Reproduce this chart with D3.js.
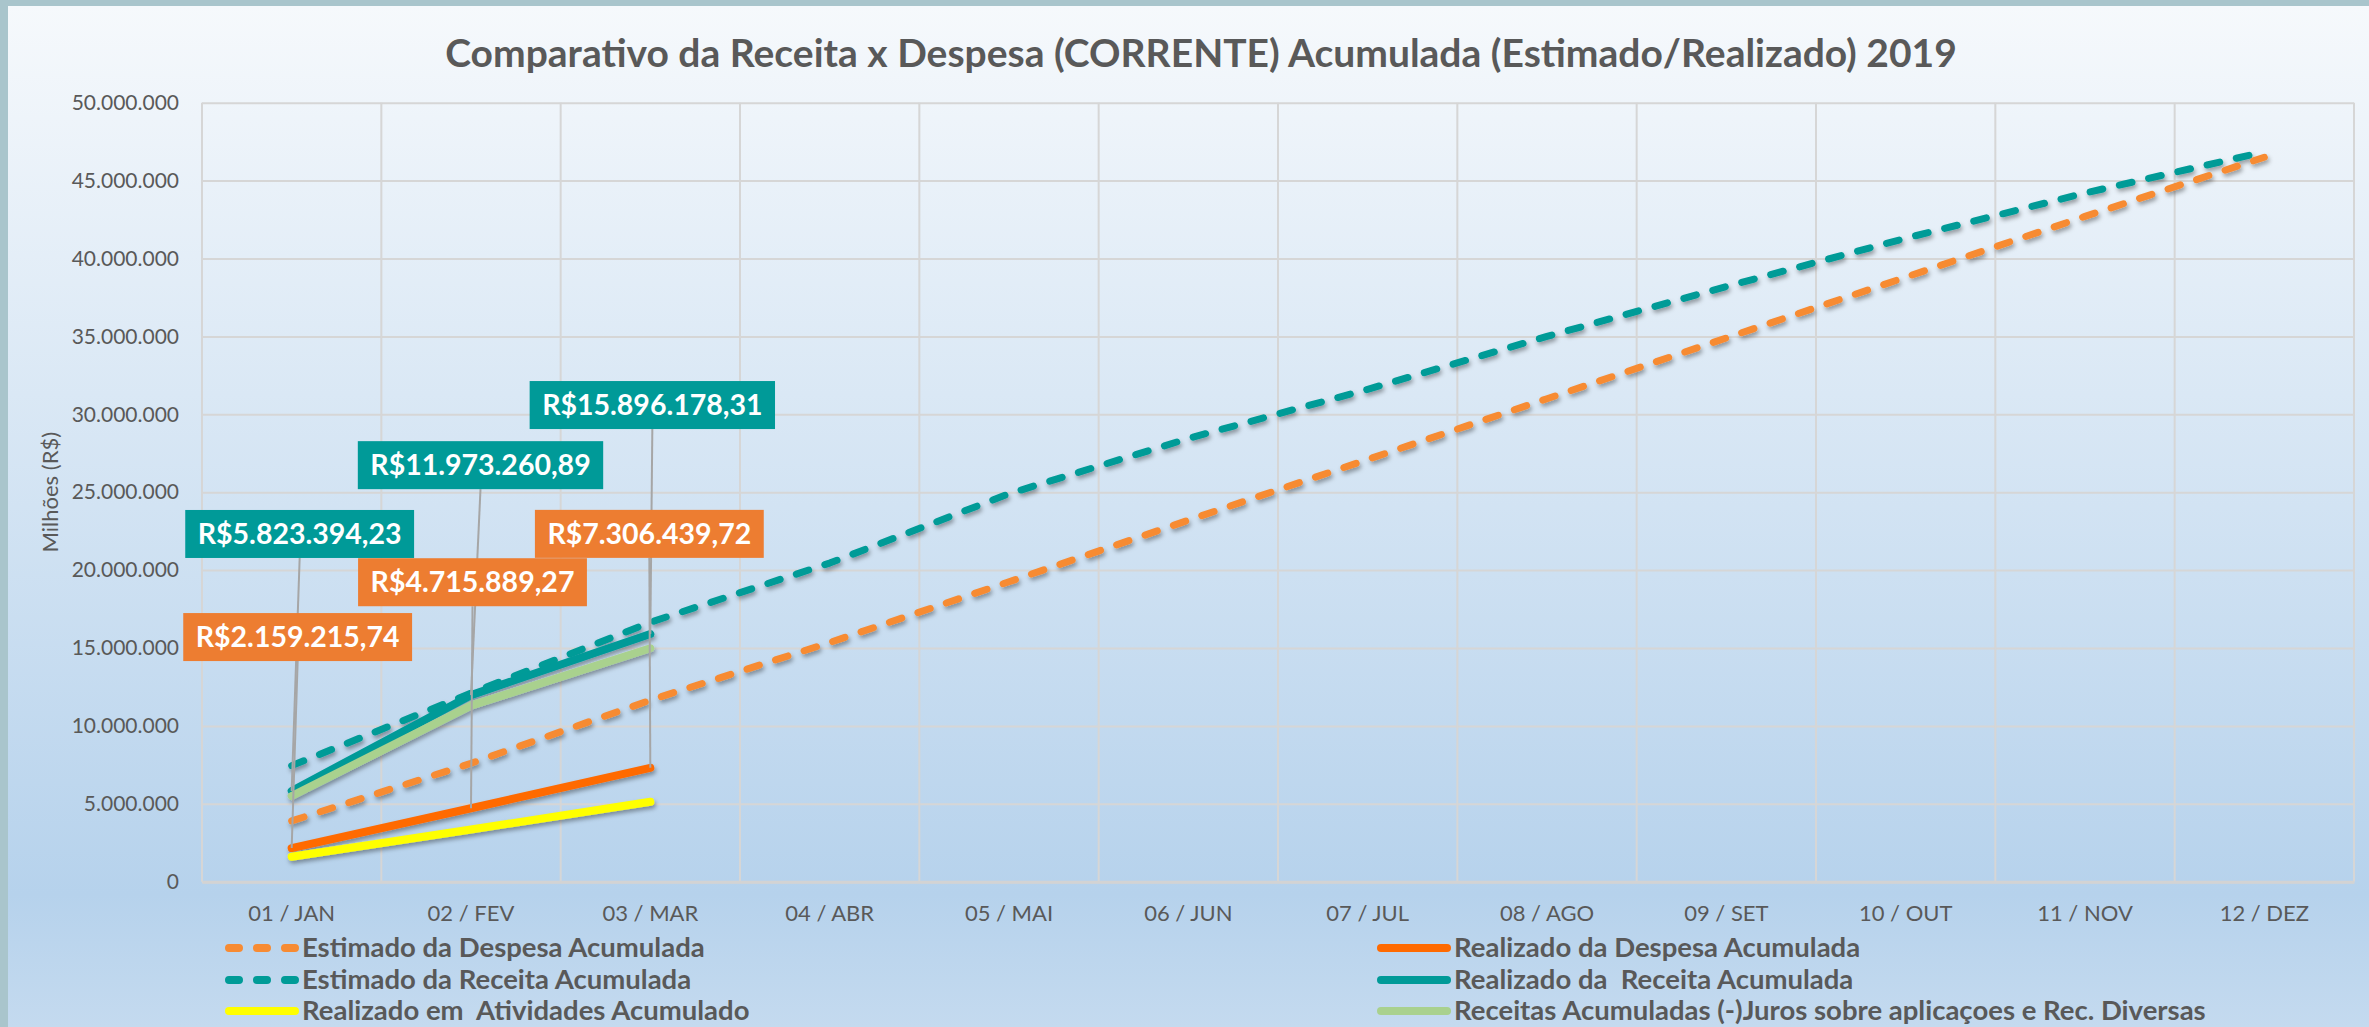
<!DOCTYPE html>
<html>
<head>
<meta charset="utf-8">
<script src="https://cdn.jsdelivr.net/npm/d3@7"></script>
<style>
  body { margin: 0; background: #a9c5cc; }
  svg { display: block; font-family: Lato, "Open Sans", sans-serif; }
</style>
</head>
<body>
<div id="chart"></div>
<script>
// Dados
const meses = ["01 / JAN", "02 / FEV", "03 / MAR", "04 / ABR", "05 / MAI", "06 / JUN",
               "07 / JUL", "08 / AGO", "09 / SET", "10 / OUT", "11 / NOV", "12 / DEZ"];
const estimadoDespesa = [3900000, 7600000, 11650000, 15350000, 19250000, 23200000,
                         27100000, 31000000, 34900000, 38800000, 42700000, 46500000];
const estimadoReceita = [7450000, 12100000, 16650000, 20450000, 24900000, 28450000,
                         31600000, 35000000, 38200000, 41300000, 44200000, 46850000];
const realizadoDespesa = [2159215.74, 4715889.27, 7306439.72];
const realizadoReceita = [5823394.23, 11973260.89, 15896178.31];
const realizadoAtividades = [1600000, 3350000, 5130000];
const receitasSemJuros = [5500000, 11300000, 14980000];
const yTicks = [0, 5e6, 10e6, 15e6, 20e6, 25e6, 30e6, 35e6, 40e6, 45e6, 50e6];

// Dimensões
const width = 2369, height = 1027;
const plot = { left: 202, right: 2354, top: 102.7, bottom: 881.7 };

const br = d3.formatLocale({ decimal: ",", thousands: ".", grouping: [3], currency: ["R$", ""] });
const fmtNum = br.format(",.0f");
const fmtMoeda = br.format("$,.2f");

const svg = d3.select("#chart").append("svg")
  .attr("width", width)
  .attr("height", height);

const defs = svg.append("defs");
const grad = defs.append("linearGradient")
  .attr("id", "fundo").attr("x1", 0).attr("y1", 0).attr("x2", 0).attr("y2", 1);
grad.append("stop").attr("offset", "0%").attr("stop-color", "#f6f9fc");
grad.append("stop").attr("offset", "87%").attr("stop-color", "#b6d2ec");
grad.append("stop").attr("offset", "100%").attr("stop-color", "#c4daef");

const shadow = defs.append("filter").attr("id", "sombra")
  .attr("x", "-5%").attr("y", "-20%").attr("width", "110%").attr("height", "140%");
shadow.append("feDropShadow")
  .attr("dx", 1.5).attr("dy", 3).attr("stdDeviation", 2)
  .attr("flood-color", "#000").attr("flood-opacity", 0.35);

// Fundo
svg.append("rect")
  .attr("x", 8).attr("y", 6)
  .attr("width", width - 8).attr("height", height - 6)
  .attr("fill", "url(#fundo)");

// Escalas
const x = d3.scaleBand()
  .domain(meses)
  .range([plot.left, plot.right])
  .padding(0);
const cx = d => x(d) + x.bandwidth() / 2;

const y = d3.scaleLinear()
  .domain([0, 50e6])
  .range([plot.bottom, plot.top]);

// Eixo Y + grade horizontal
const yAxis = svg.append("g")
  .attr("transform", `translate(${plot.left},0)`)
  .call(d3.axisLeft(y)
    .tickValues(yTicks)
    .tickFormat(fmtNum)
    .tickSize(-(plot.right - plot.left))
    .tickPadding(23));
yAxis.select(".domain").remove();
yAxis.selectAll(".tick line").attr("stroke", "#d6d6d6").attr("stroke-width", 2);
yAxis.selectAll(".tick text")
  .attr("fill", "#595959")
  .attr("font-size", "21px")
  .attr("font-family", "Lato, sans-serif");

// Grade vertical
const bordas = meses.map(m => x(m)).concat([plot.right]);
svg.append("g").selectAll("line")
  .data(bordas)
  .join("line")
  .attr("x1", d => d).attr("x2", d => d)
  .attr("y1", plot.top).attr("y2", plot.bottom)
  .attr("stroke", "#d6d6d6")
  .attr("stroke-width", 2);

// Eixo X
const xAxis = svg.append("g")
  .attr("transform", `translate(0,${plot.bottom})`)
  .call(d3.axisBottom(x).tickSize(0).tickPadding(24));
xAxis.select(".domain").attr("stroke", "#d3d3d3").attr("stroke-width", 3);
xAxis.selectAll(".tick text")
  .attr("fill", "#595959")
  .attr("font-size", "22px")
  .attr("font-family", "Lato, sans-serif");

// Título do eixo Y
svg.append("text")
  .attr("transform", `translate(58,${(plot.top + plot.bottom) / 2}) rotate(-90)`)
  .attr("text-anchor", "middle")
  .attr("fill", "#595959")
  .attr("font-size", "22px")
  .text("Milhões (R$)");

// Título
svg.append("text")
  .attr("x", 1201)
  .attr("y", 67)
  .attr("text-anchor", "middle")
  .attr("fill", "#595959")
  .attr("font-size", "39px")
  .attr("font-weight", "bold")
  .text("Comparativo da Receita x Despesa (CORRENTE) Acumulada (Estimado/Realizado) 2019");

// Séries (ordem de desenho)
const series = [
  { nome: "Estimado da Despesa Acumulada", valores: estimadoDespesa, cor: "#f78b33", tracejado: true },
  { nome: "Realizado da Despesa Acumulada", valores: realizadoDespesa, cor: "#ff6a00", tracejado: false },
  { nome: "Estimado da Receita Acumulada", valores: estimadoReceita, cor: "#009b97", tracejado: true },
  { nome: "Realizado da  Receita Acumulada", valores: realizadoReceita, cor: "#009a98", tracejado: false },
  { nome: "Realizado em  Atividades Acumulado", valores: realizadoAtividades, cor: "#ffff00", tracejado: false },
  { nome: "Receitas Acumuladas (-)Juros sobre aplicaçoes e Rec. Diversas", valores: receitasSemJuros, cor: "#a9d18e", tracejado: false }
];

const line = d3.line()
  .x((d, i) => cx(meses[i]))
  .y(d => y(d));

svg.append("g").attr("filter", "url(#sombra)")
  .selectAll("path")
  .data(series)
  .join("path")
  .attr("fill", "none")
  .attr("stroke", d => d.cor)
  .attr("stroke-width", d => d.tracejado ? 7 : 8)
  .attr("stroke-linecap", "round")
  .attr("stroke-linejoin", "round")
  .attr("stroke-dasharray", d => d.tracejado ? "13,17" : null)
  .attr("d", d => line(d.valores));

// Rótulos de dados (posição relativa ao ponto)
const rotulos = [
  { valores: realizadoReceita, cor: "#009a98", pos: [{ dx: 8, top: -281 }, { dx: 9.5, top: -254 }, { dx: 2, top: -253 }] },
  { valores: realizadoDespesa, cor: "#ed7d31", pos: [{ dx: 6, top: -235 }, { dx: 1.5, top: -250 }, { dx: -1, top: -258 }] }
];

const gLab = svg.append("g");
rotulos.forEach(r => {
  r.valores.forEach((v, i) => {
    const px = cx(meses[i]), py = y(v);
    const bx = px + r.pos[i].dx, by = py + r.pos[i].top;
    gLab.append("line")
      .attr("x1", bx).attr("y1", by + 48)
      .attr("x2", px).attr("y2", py)
      .attr("stroke", "#a6a6a6")
      .attr("stroke-width", 2);
  });
});
rotulos.forEach(r => {
  r.valores.forEach((v, i) => {
    const px = cx(meses[i]), py = y(v);
    const bx = px + r.pos[i].dx, by = py + r.pos[i].top;
    const g = gLab.append("g");
    const rect = g.append("rect").attr("fill", r.cor);
    const t = g.append("text")
      .attr("x", bx)
      .attr("y", by + 34)
      .attr("text-anchor", "middle")
      .attr("fill", "#fff")
      .attr("font-size", "28.5px")
      .attr("font-weight", "bold")
      .text(fmtMoeda(v));
    const w = t.node().getComputedTextLength() + 25;
    rect.attr("x", bx - w / 2).attr("y", by).attr("width", w).attr("height", 48);
  });
});

// Legenda
const legenda = [
  { s: series[0], x: 225, y: 948 },
  { s: series[2], x: 225, y: 980 },
  { s: series[4], x: 225, y: 1011 },
  { s: series[1], x: 1377, y: 948 },
  { s: series[3], x: 1377, y: 980 },
  { s: series[5], x: 1377, y: 1011 }
];
const gLeg = svg.append("g");
legenda.forEach(l => {
  gLeg.append("line")
    .attr("x1", l.x + 4).attr("x2", l.x + 70)
    .attr("y1", l.y).attr("y2", l.y)
    .attr("stroke", l.s.cor)
    .attr("stroke-width", 8)
    .attr("stroke-linecap", "round")
    .attr("stroke-dasharray", l.s.tracejado ? "10,18" : null);
  gLeg.append("text")
    .attr("x", l.x + 77)
    .attr("y", l.y + 9)
    .attr("fill", "#595959")
    .attr("font-size", "27.5px")
    .attr("font-weight", "bold")
    .style("white-space", "pre")
    .text(l.s.nome);
});
</script>
</body>
</html>
